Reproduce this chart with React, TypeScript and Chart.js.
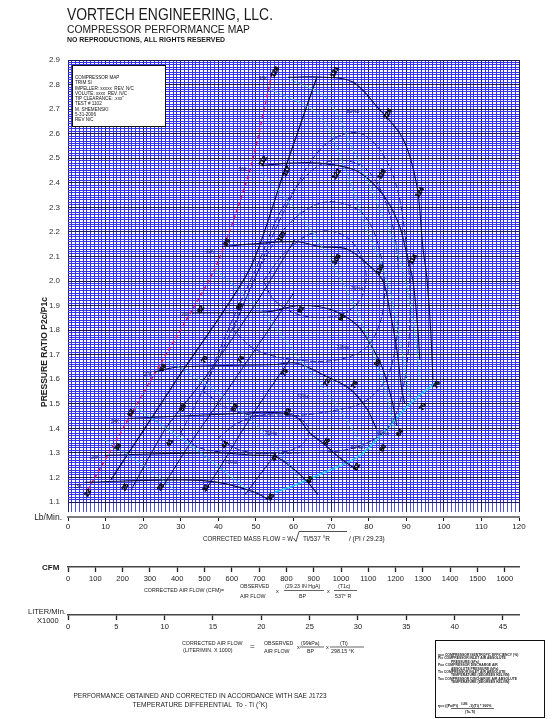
import { useEffect, useRef } from 'react';
import { Chart, registerables } from 'chart.js';
Chart.register(...registerables);

type P = [number, number];

// axis ranges
const X_MIN = 0, X_MAX = 120, Y_MIN = 1.1, Y_MAX = 2.9;
const CFM_MAX = 1652, LIT_MAX = 46.66;

// surge / reference lines
const surgeLine: P[] = [[11.4, 1.19], [29.0, 1.6], [48.4, 2.05], [57.7, 2.455], [66.2, 2.83]];
const magentaLine: P[] = [[5.3, 1.15], [21.8, 1.59], [39.1, 2.05], [48.4, 2.45], [54.5, 2.86]];
const chokeLine: P[] = [[55, 1.14], [59.0, 1.16], [69.7, 1.23], [77.7, 1.29], [84.3, 1.39], [91.0, 1.5], [98.1, 1.59]];

// speed lines
const speed1: P[] = [[58.5, 2.83], [68.4, 2.83], [75.8, 2.81], [82.2, 2.71], [89.1, 2.58], [92.8, 2.39], [94.4, 2.14], [95.5, 2.01], [96.5, 1.8], [97.1, 1.6]];
const speed2: P[] = [[51.6, 2.47], [59.0, 2.48], [67.0, 2.48], [75.8, 2.455], [80.3, 2.41], [84.8, 2.33], [88.3, 2.22], [90.4, 2.09], [91.8, 2.0], [93.1, 1.8], [93.6, 1.68]];
const speed3: P[] = [[41.0, 2.14], [48.4, 2.15], [60.9, 2.16], [67.0, 2.14], [74.2, 2.13], [80.3, 2.06], [83.8, 2.0], [85.6, 1.88], [87.5, 1.72], [88.8, 1.56], [89.6, 1.5]];
const speed4: P[] = [[33.0, 1.87], [53.2, 1.875], [61.7, 1.9], [69.7, 1.885], [76.9, 1.82], [80.9, 1.73], [83.8, 1.64], [86.4, 1.5], [87.5, 1.41]];
const speed5: P[] = [[23.1, 1.63], [29.3, 1.65], [55.1, 1.66], [60.9, 1.665], [68.9, 1.61], [75.0, 1.56], [79.5, 1.48], [82.0, 1.4]];
const speed6: P[] = [[15.9, 1.44], [44.4, 1.46], [53.2, 1.465], [60.4, 1.45], [64.4, 1.38], [67.8, 1.34], [72.3, 1.28], [76.9, 1.23]];
const speed7: P[] = [[9.8, 1.29], [39.1, 1.3], [49.7, 1.29], [55.1, 1.285], [60.4, 1.23], [63.8, 1.18], [66.5, 1.13]];
const speed8: P[] = [[4.5, 1.18], [30.1, 1.19], [39.9, 1.18], [49.7, 1.14], [53.2, 1.11]];

// temperature-differential lines
const temp2: P[] = [[16.8, 1.15], [26, 1.4], [36.2, 1.6], [50.5, 1.92], [60.4, 2.17]];
const temp3: P[] = [[24.7, 1.15], [33, 1.35], [42.6, 1.56], [55.1, 1.84], [60, 1.95]];
const temp4: P[] = [[36.7, 1.15], [42, 1.28], [48.4, 1.44], [59.0, 1.68]];
const temp5: P[] = [[47.1, 1.13], [51, 1.21], [55.1, 1.29]];

// green / cyan dashed lines
const green1: P[] = [[59.0, 2.822], [68.9, 2.741], [75.8, 2.537], [83.0, 2.292], [88.3, 2.088], [91.8, 1.843], [93.6, 1.598]];
const green2: P[] = [[53.7, 2.782], [67.0, 2.671], [73.7, 2.455], [79.0, 2.231], [84.8, 2.006], [88.3, 1.761], [91.0, 1.516]];
const green3: P[] = [[51.1, 2.443], [61.7, 2.271], [71.5, 2.035], [79.0, 1.802], [84.3, 1.557], [87.0, 1.394]];
const green4: P[] = [[39.1, 2.047], [51.1, 1.884], [61.7, 1.68], [72.3, 1.476], [79.0, 1.312]];
const green5: P[] = [[26.6, 1.68], [42.6, 1.516], [53.7, 1.353], [61.7, 1.19]];
const green6: P[] = [[17.8, 1.488], [32.4, 1.333], [47.9, 1.149]];
const green7: P[] = [[9.8, 1.353], [21.8, 1.231], [29.8, 1.129]];

// efficiency islands
const island76: P[] = [[52, 2.0], [58, 2.12], [66, 2.2], [74, 2.18], [79, 2.06], [78, 1.93], [72, 1.86], [62, 1.86], [55, 1.92], [52, 2.0]];
const island73: P[] = [[44, 1.8], [50, 2.02], [58, 2.22], [68, 2.32], [78, 2.28], [83, 2.12], [84, 1.9], [80, 1.74], [72, 1.68], [60, 1.68], [50, 1.72], [44, 1.8]];
const island70: P[] = [[36, 1.55], [42, 1.78], [50, 2.05], [58, 2.32], [68, 2.48], [79, 2.46], [86, 2.25], [88, 1.95], [86, 1.65], [80, 1.52], [70, 1.47], [56, 1.45], [44, 1.47], [36, 1.55]];
const island66: P[] = [[30, 1.38], [38, 1.62], [48, 1.95], [58, 2.3], [68, 2.55], [78, 2.6], [86, 2.45], [90, 2.15], [91, 1.85], [89, 1.55], [85, 1.4], [76, 1.32], [62, 1.3], [46, 1.3], [35, 1.32], [30, 1.38]];
const island71: P[] = [[40, 1.36], [45, 1.42], [52, 1.455], [60, 1.45], [64, 1.4], [62, 1.33], [55, 1.3], [46, 1.31], [40, 1.36]];

// black marker labels (temperature differential values)
const markerX = [55.1, 71.0, 51.9, 58.2, 71.5, 85.1, 83.5, 93.6, 42.3, 56.9, 71.5, 83.0, 91.8, 35.4, 45.7, 62.0, 72.9, 25.3, 36.4, 46.0, 57.7, 82.4, 16.8, 30.6, 44.4, 58.5, 68.9, 76.3, 13.3, 27.1, 41.8, 55.1, 68.9, 88.3, 83.8, 76.9, 94.4, 98.1, 5.3, 15.2, 24.7, 36.7, 54.0, 64.4];
const markerY = [2.851, 2.851, 2.488, 2.447, 2.435, 2.68, 2.435, 2.361, 2.157, 2.182, 2.088, 2.047, 2.088, 1.884, 1.896, 1.884, 1.851, 1.647, 1.68, 1.68, 1.627, 1.667, 1.463, 1.484, 1.484, 1.467, 1.586, 1.578, 1.324, 1.341, 1.333, 1.28, 1.345, 1.382, 1.32, 1.243, 1.488, 1.578, 1.137, 1.161, 1.161, 1.157, 1.12, 1.19];
const markerText = ['128', '131', '112', '117', '122', '126', '119', '124', '95', '101', '106', '110', '114', '82', '86', '91', '96', '66', '70', '74', '79', '88', '52', '55', '59', '63', '72', '78', '38', '41', '44', '47', '55', '64', '60', '52', '70', '76', '22', '25', '28', '31', '35', '40'];

// speed labels
const speedLabelX = [51.9, 46.5, 37.8, 31.1, 21.3, 12.5, 7.2, 2.7];
const speedLabelY = [2.822, 2.455, 2.12, 1.863, 1.618, 1.427, 1.28, 1.161];
const speedLabelText = ['38K', '36K', '33K', '30K', '27K', '24K', '20K', '15K'];

// island labels
const effLabelX = [75.8, 76.9, 73.1, 62.5, 43.4, 54.0, 83.8, 76.9];
const effLabelY = [2.69, 1.97, 1.73, 1.53, 1.26, 1.38, 1.38, 1.32];
const effLabelText = ['80%c', '76%c', '73%c', '70%c', '70%c', '71%c', '66%c', '60%c'];

const infoLines = ['COMPRESSOR MAP', 'TRIM SI', 'IMPELLER: xxxxx  REV. N/C', 'VOLUTE: xxxx  REV. N/C', 'TIP CLEARANCE: .xxx"', 'TEST # 1102', 'M. SHEMENSKI', '5-31-2006', 'REV N/C'];
const legendLines = [
  ['ηc= COMPRESSOR ISENTROPIC EFFICIENCY (%)', 0],
  ['Pi= COMPRESSOR INLET AIR ABSOLUTE', 0],
  ['PRESSURE (kPa)', 1],
  ['Po= COMPRESSOR DISCHARGE AIR', 0],
  ['ABSOLUTE PRESSURE (kPa)', 1],
  ['Ti= COMPRESSOR INLET AIR ABSOLUTE', 0],
  ['TEMPERATURE (DEGREES KELVIN)', 1],
  ['To= COMPRESSOR DISCHARGE AIR ABSOLUTE', 0],
  ['TEMPERATURE (DEGREES KELVIN)', 1],
] as [string, number][];

const toXY = (a: P[]) => a.map(([x, y]) => ({ x, y }));

export default function App() {
  const ref = useRef<HTMLCanvasElement>(null);
  useEffect(() => {
    const canvas = ref.current!;
    const FONT = '"Liberation Sans", Arial, Helvetica, sans-serif';
    const MINOR = '#3434f0';
    const MAJOR = '#18185a';
    const isMajorY = (v: number) => Math.abs(v * 10 - Math.round(v * 10)) < 1e-6;
    const isMajorX = (v: number) => Math.abs(v / 10 - Math.round(v / 10)) < 1e-6;

    const mk = (data: P[], color: string, width = 1, dash: number[] = [], tension = 0.35) => ({
      data: toXY(data), borderColor: color, backgroundColor: color, borderWidth: width, borderDash: dash,
      showLine: true, pointRadius: 0, pointHoverRadius: 0, tension, fill: false, xAxisID: 'x', yAxisID: 'y',
    });

    const NAVY = '#0a0a40';
    const ISL = '#1c1c8c';
    const GREEN = '#44d8b0';
    const datasets = [
      mk(green1, GREEN, 1, [3, 2]), mk(green2, GREEN, 1, [3, 2]), mk(green3, GREEN, 1, [3, 2]),
      mk(green4, GREEN, 1, [3, 2]), mk(green5, '#38c8e0', 1, [3, 2]), mk(green6, '#38c8e0', 1.2, [3, 2]), mk(green7, '#38c8e0', 1, [3, 2]),
      mk(island76, ISL, 1, [6, 2]), mk(island73, ISL, 1, [6, 2]), mk(island70, ISL, 1, [6, 2]), mk(island66, ISL, 1, [6, 2]), mk(island71, ISL, 1, [6, 2]),
      mk(temp2, NAVY, 1, [], 0.2), mk(temp3, NAVY, 1, [], 0.2), mk(temp4, NAVY, 1, [], 0.2), mk(temp5, NAVY, 1, [], 0.2),
      mk(speed1, NAVY, 1.1), mk(speed2, NAVY, 1.1), mk(speed3, NAVY, 1.1), mk(speed4, NAVY, 1.1),
      mk(speed5, NAVY, 1.1), mk(speed6, NAVY, 1.1), mk(speed7, NAVY, 1.1), mk(speed8, NAVY, 1.1),
      mk(chokeLine, '#2cc8f4', 1.6),
      mk(magentaLine, '#d01868', 1.5, [4, 3], 0.2),
      mk(surgeLine, '#08083a', 1.2, [], 0.25),
    ];

    const t = (c: CanvasRenderingContext2D, s: string, x: number, y: number, size: number,
      o: { bold?: boolean; align?: CanvasTextAlign; maxW?: number; color?: string } = {}) => {
      c.font = `${o.bold ? 'bold ' : ''}${size}px ${FONT}`;
      c.textAlign = o.align || 'left';
      c.textBaseline = 'alphabetic';
      c.fillStyle = o.color || '#1a1a1a';
      if (o.maxW) c.fillText(s, x, y, o.maxW); else c.fillText(s, x, y);
    };
    const hline = (c: CanvasRenderingContext2D, x1: number, x2: number, y: number) => {
      c.beginPath(); c.moveTo(x1, y); c.lineTo(x2, y); c.lineWidth = 0.7; c.strokeStyle = '#222'; c.stroke();
    };

    const textPlugin = {
      id: 'texts',
      afterDraw(chart: any) {
        const c: CanvasRenderingContext2D = chart.ctx;
        const xs = chart.scales.x, ys = chart.scales.y;
        c.save();
        // markers
        for (let i = 0; i < markerX.length; i++) {
          const px = xs.getPixelForValue(markerX[i]);
          const py = ys.getPixelForValue(markerY[i]);
          c.save(); c.translate(px, py); c.rotate(-Math.PI / 3);
          c.font = `bold 6.5px ${FONT}`; c.textAlign = 'center'; c.textBaseline = 'middle'; c.fillStyle = '#000';
          c.fillText(markerText[i], 0, 0);
          c.lineWidth = 0.5; c.strokeStyle = '#000'; c.strokeText(markerText[i], 0, 0);
          c.restore();
        }
        for (let i = 0; i < speedLabelX.length; i++) {
          const px = xs.getPixelForValue(speedLabelX[i]);
          const py = ys.getPixelForValue(speedLabelY[i]);
          c.font = `4.5px ${FONT}`; c.textAlign = 'center'; c.textBaseline = 'middle'; c.fillStyle = '#101030';
          c.fillText(speedLabelText[i], px, py);
        }
        for (let i = 0; i < effLabelX.length; i++) {
          const px = xs.getPixelForValue(effLabelX[i]);
          const py = ys.getPixelForValue(effLabelY[i]);
          c.font = `5px ${FONT}`; c.textAlign = 'center'; c.textBaseline = 'middle'; c.fillStyle = '#101050';
          c.fillText(effLabelText[i], px, py);
        }
        // info box
        c.fillStyle = '#fff'; c.fillRect(72.5, 65.5, 93, 61);
        c.strokeStyle = '#111'; c.lineWidth = 1; c.strokeRect(72.5, 65.5, 93, 61);
        infoLines.forEach((s, i) => t(c, s, 75, 79 + i * 5.25, 4.6, { color: '#111' }));

        // header
        t(c, 'VORTECH ENGINEERING, LLC.', 67, 20, 16, { maxW: 206 });
        t(c, 'COMPRESSOR PERFORMANCE MAP', 67, 33, 11.5, { maxW: 183 });
        t(c, 'NO REPRODUCTIONS, ALL RIGHTS RESERVED', 67, 42, 7, { bold: true, maxW: 158 });

        // y title
        c.save(); c.translate(47, 352); c.rotate(-Math.PI / 2);
        t(c, 'PRESSURE RATIO P2c/P1c', 0, 0, 8.5, { bold: true, align: 'center', maxW: 122, color: '#222' });
        c.restore();
        t(c, 'Lb/Min.', 62, 520, 8.5, { align: 'right', color: '#222' });

        // x title
        t(c, 'CORRECTED MASS FLOW = W', 203, 541, 6.5, { maxW: 90 });
        c.beginPath(); c.moveTo(293.5, 538); c.lineTo(296, 541.5); c.lineTo(299, 531.5); c.lineTo(347, 531.5);
        c.lineWidth = 0.8; c.strokeStyle = '#222'; c.stroke();
        t(c, 'Ti/537 °R', 303, 541, 6.5, { maxW: 42 });
        t(c, '/ (PI / 29.23)', 349, 541, 6.5, { maxW: 38 });

        // CFM axis texts
        t(c, 'CFM', 42, 569.5, 8, { bold: true, maxW: 18 });
        t(c, 'CORRECTED AIR FLOW (CFM)=', 144, 592, 5.3, { maxW: 84 });
        t(c, 'OBSERVED', 240, 588, 5.3, { maxW: 33 });
        t(c, 'AIR FLOW', 240, 598, 5.3, { maxW: 27 });
        t(c, 'x', 276, 593, 5.5);
        t(c, '(29.23 IN HgA)', 285, 588, 5.3, { maxW: 37 });
        hline(c, 284, 324, 590.5);
        t(c, 'BP', 299, 598, 5.3);
        t(c, 'x', 327, 593, 5.5);
        t(c, '(T1c)', 338, 588, 5.3, { maxW: 13 });
        hline(c, 334, 357, 590.5);
        t(c, '537° R', 335, 598, 5.3, { maxW: 21 });

        // liter axis texts
        t(c, 'LITER/MIn.', 28, 614, 7.5, { maxW: 38 });
        t(c, 'X1000', 37, 623, 7.5, { maxW: 22 });
        t(c, 'CORRECTED AIR FLOW', 182, 645, 5.3, { maxW: 66 });
        t(c, '(LITER/MIN. X 1000)', 183, 651.5, 5.3, { maxW: 64 });
        t(c, '=', 250, 649, 8);
        t(c, 'OBSERVED', 264, 645, 5.3, { maxW: 32 });
        t(c, 'AIR FLOW', 264, 653, 5.3, { maxW: 26 });
        t(c, 'x', 297, 649, 5.5);
        t(c, '(99kPa)', 301, 645, 5.3, { maxW: 22 });
        hline(c, 300, 324, 647);
        t(c, 'BP', 307, 653, 5.3);
        t(c, 'x', 326, 649, 5.5);
        t(c, '(Ti)', 340, 645, 5.3, { maxW: 11 });
        hline(c, 330, 364, 647);
        t(c, '298.15 °K', 331, 653, 5.3, { maxW: 33 });

        // footer
        t(c, 'PERFORMANCE OBTAINED AND CORRECTED IN ACCORDANCE WITH SAE J1723', 200, 698, 6.8, { align: 'center', maxW: 253 });
        t(c, 'TEMPERATURE DIFFERENTIAL  To - Ti (°K)', 200, 707, 6.8, { align: 'center', maxW: 135 });

        // legend box
        c.fillStyle = '#fff'; c.fillRect(435.5, 640.5, 109, 77);
        c.strokeStyle = '#111'; c.lineWidth = 1; c.strokeRect(435.5, 640.5, 109, 77);
        legendLines.forEach(([s, ind], i) => t(c, s, ind ? 451 : 438, 656 + i * 3.4, 3.4, { bold: true, color: '#222', maxW: ind ? 70 : 100 }));
        t(c, 'ηc= ((Po/Pi)', 438, 707, 3.6, { bold: true, color: '#222' });
        t(c, '0.286', 461, 705, 2.6, { bold: true, color: '#222' });
        t(c, '-1)(Ti) * 100%', 469, 707, 3.6, { bold: true, color: '#222' });
        hline(c, 451, 494, 708.5);
        t(c, '(To-Ti)', 465, 712.5, 3.4, { bold: true, color: '#222' });
        c.restore();
      },
    };

    const gridColorY = (ctx: any) => (ctx.tick && isMajorY(ctx.tick.value) ? MAJOR : MINOR);
    const gridColorX = (ctx: any) => (ctx.tick && isMajorX(ctx.tick.value) ? MAJOR : MINOR);
    const plain = (v: any) => String(Math.round(Number(v) * 100) / 100);

    const chart = new Chart(canvas, {
      type: 'scatter',
      data: { datasets: datasets as any },
      options: {
        responsive: false,
        animation: false,
        devicePixelRatio: 1,
        events: [],
        layout: { padding: { left: 0, top: 60, right: 37, bottom: 84 } },
        plugins: { legend: { display: false }, tooltip: { enabled: false } },
        scales: {
          x: {
            type: 'linear', position: 'bottom', weight: 0, min: X_MIN, max: X_MAX,
            border: { display: false },
            grid: { color: gridColorX, tickColor: (c: any) => (c.tick && isMajorX(c.tick.value) ? '#202070' : '#5050e8'), tickLength: 10, lineWidth: 1 },
            ticks: { display: false, stepSize: 1, autoSkip: false },
            afterFit: (s: any) => { s.height = 15; },
          },
          x2: {
            type: 'linear', position: 'bottom', weight: 1, min: X_MIN, max: X_MAX,
            border: { display: true, color: '#7c7c7c', width: 2 },
            grid: { drawOnChartArea: false, tickLength: 4, tickColor: '#111', tickWidth: 1 },
            ticks: { stepSize: 10, autoSkip: false, maxRotation: 0, padding: 1, color: '#222', font: { family: FONT, size: 8 }, callback: plain },
            afterFit: (s: any) => { s.height = 50; },
          },
          cfm: {
            type: 'linear', position: 'bottom', weight: 2, min: 0, max: CFM_MAX,
            border: { display: true, color: '#444', width: 1.5 },
            grid: { drawOnChartArea: false, tickLength: 5, tickColor: '#222', tickWidth: 1.3 },
            ticks: { stepSize: 100, includeBounds: false, autoSkip: false, maxRotation: 0, padding: 2, color: '#222', font: { family: FONT, size: 7.5 }, callback: plain },
            afterFit: (s: any) => { s.height = 48; },
          },
          lit: {
            type: 'linear', position: 'bottom', weight: 3, min: 0, max: LIT_MAX,
            border: { display: true, color: '#444', width: 1.5 },
            grid: { drawOnChartArea: false, tickLength: 5, tickColor: '#222', tickWidth: 1.3 },
            ticks: { stepSize: 5, includeBounds: false, autoSkip: false, maxRotation: 0, padding: 2, color: '#222', font: { family: FONT, size: 7.5 }, callback: plain },
            afterFit: (s: any) => { s.height = 20; },
          },
          y: {
            type: 'linear', position: 'left', min: Y_MIN, max: Y_MAX,
            border: { display: false },
            grid: { color: gridColorY, drawTicks: false, lineWidth: 1 },
            ticks: {
              stepSize: 0.01, autoSkip: false, padding: 8, color: '#333', font: { family: FONT, size: 8 },
              callback: (v: any) => (isMajorY(Number(v)) ? Number(v).toFixed(1) : ''),
            },
            afterFit: (s: any) => { s.width = 68; },
          },
        },
      } as any,
      plugins: [textPlugin],
    });
    return () => chart.destroy();
  }, []);
  return (
    <div style={{ position: 'absolute', left: 0, top: 0, width: 556, height: 719, background: '#fff' }}>
      <canvas ref={ref} width={556} height={719} style={{ display: 'block', width: 556, height: 719 }} />
    </div>
  );
}
